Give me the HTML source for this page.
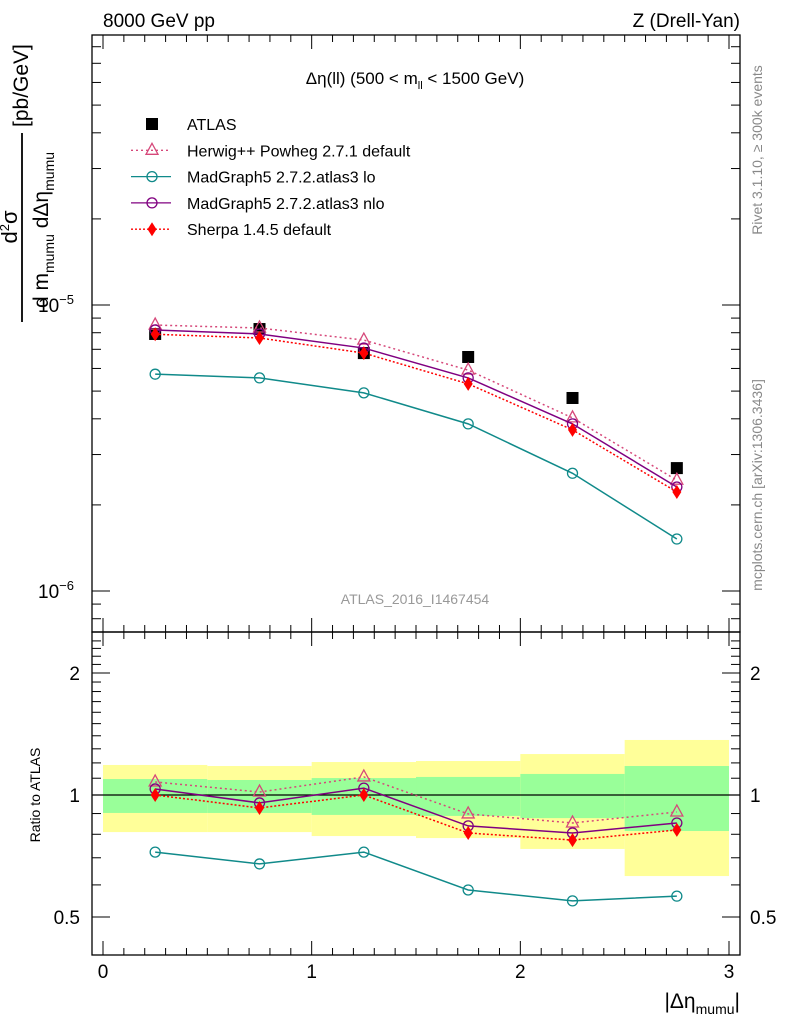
<!DOCTYPE html>
<html><head><meta charset="utf-8"><style>
body{margin:0;background:#fff;width:786px;height:1024px;overflow:hidden}
svg{font-family:"Liberation Sans",sans-serif}
</style></head><body>
<svg id="c" width="786" height="1024" xmlns="http://www.w3.org/2000/svg"></svg>
<script>
const categories=[0.25,0.75,1.25,1.75,2.25,2.75];
const binEdges=[0,0.5,1,1.5,2,2.5,3];
const atlas=[0.792e-5,0.824e-5,0.679e-5,0.658e-5,0.473e-5,0.269e-5];
const herwig=[0.851e-5,0.831e-5,0.754e-5,0.592e-5,0.403e-5,0.244e-5];
const mgNlo=[0.818e-5,0.792e-5,0.707e-5,0.556e-5,0.384e-5,0.231e-5];
const sherpa=[0.79e-5,0.767e-5,0.679e-5,0.53e-5,0.366e-5,0.222e-5];
const mgLo=[0.573e-5,0.556e-5,0.493e-5,0.384e-5,0.258e-5,0.152e-5];
const rHerwig=[1.077,1.017,1.108,0.898,0.853,0.908];
const rNlo=[1.035,0.956,1.04,0.839,0.806,0.853];
const rSherpa=[1.0,0.929,1.0,0.806,0.774,0.82];
const rLo=[0.723,0.676,0.723,0.583,0.548,0.563];
const yelUp=[1.186,1.179,1.206,1.213,1.262,1.367];
const yelDn=[0.810,0.810,0.792,0.783,0.736,0.631];
const grnUp=[1.095,1.089,1.101,1.108,1.127,1.179];
const grnDn=[0.903,0.903,0.893,0.888,0.877,0.815];
const xTicks=[0,1,2,3];
const ratioTicks=[0.5,1,2];

const L=92,R=740,T=35,M=632,B=955;
const X=v=>103+v*208.67;
const Y=v=>305-286*Math.log10(v/1e-5);
const RY=v=>795-122*Math.log2(v);
const svg=document.getElementById('c');
const NS='http://www.w3.org/2000/svg';
function el(tag,attrs,parent){const e=document.createElementNS(NS,tag);for(const k in attrs)e.setAttribute(k,attrs[k]);(parent||svg).appendChild(e);return e;}
function txt(s,x,y,size,anchor,fill,parent){const t=el('text',{x:x,y:y,'font-size':size,'text-anchor':anchor||'start',fill:fill||'#000'},parent);t.textContent=s;return t;}

const bands=el('g',{});


for(let i=0;i<6;i++){
  const x0=X(binEdges[i]),x1=X(binEdges[i+1]);
  const y=el('rect',{x:x0,y:RY(yelUp[i]),width:x1-x0,height:RY(yelDn[i])-RY(yelUp[i]),fill:'#ffff99'},bands);
  
  
  const g=el('rect',{x:x0,y:RY(grnUp[i]),width:x1-x0,height:RY(grnDn[i])-RY(grnUp[i]),fill:'#99ff99'},bands);
  
  
}
el('line',{x1:L,x2:R,y1:RY(1),y2:RY(1),stroke:'#000','stroke-width':1.3});

for(const [y0,y1,n] of [[T,M,'main-frame'],[M,B,'ratio-frame']]){
  const f=el('rect',{x:L,y:y0,width:R-L,height:y1-y0,fill:'none',stroke:'#000','stroke-width':1.3});
  
  
}
for(let v=0;v<=3.001;v+=0.1){
  const maj=Math.abs(v-Math.round(v))<1e-6;const len=maj?14:7;const x=X(v);
  for(const [yb,dir] of [[M,-1],[T,1],[B,-1]]) el('line',{x1:x,x2:x,y1:yb,y2:yb+dir*len,stroke:'#000'});
  el('line',{x1:x,x2:x,y1:M,y2:M+len,stroke:'#000'});
}
xTicks.forEach(v=>{const t=txt(String(v),X(v),978,19,'middle');});
for(let d=-7;d<=-4;d++)for(let m=1;m<10;m++){
  const v=m*Math.pow(10,d);const y=Y(v);if(y<T||y>M)continue;const len=m==1?18:9;
  el('line',{x1:L,x2:L+len,y1:y,y2:y,stroke:'#000'});el('line',{x1:R,x2:R-len,y1:y,y2:y,stroke:'#000'});
}
const t5=el('text',{x:38,y:312,'font-size':19},svg);t5.innerHTML='10<tspan dy="-8" font-size="13">−5</tspan>';

const t6=el('text',{x:38,y:598,'font-size':19},svg);t6.innerHTML='10<tspan dy="-8" font-size="13">−6</tspan>';

for(let v=0.4;v<=2.5;v+=0.1){const y=RY(v);if(y<M||y>B)continue;
  const maj=[0.5,1,2].some(q=>Math.abs(q-v)<1e-6);const len=maj?18:9;
  el('line',{x1:L,x2:L+len,y1:y,y2:y,stroke:'#000'});el('line',{x1:R,x2:R-len,y1:y,y2:y,stroke:'#000'});}
ratioTicks.forEach(v=>{txt(String(v),80,RY(v)+7,19,'end');txt(String(v),750,RY(v)+7,19,'start');});

function line(vals,fy,col,dash,w,name){const p=el('polyline',{points:vals.map((v,i)=>X(categories[i])+','+fy(v)).join(' '),fill:'none',stroke:col,'stroke-width':w||1.5,'stroke-dasharray':dash||'none'});}
function tri(x,y,c,g){el('polygon',{points:`${x},${y-7} ${x-6},${y+4} ${x+6},${y+4}`,fill:'none',stroke:c,'stroke-width':1.3},g);}
function circ(x,y,c,g){el('circle',{cx:x,cy:y,r:5,fill:'none',stroke:c,'stroke-width':1.3},g);}
function dia(x,y,c,g){el('polygon',{points:`${x},${y-7} ${x+4.5},${y} ${x},${y+7} ${x-4.5},${y}`,fill:c},g);}
function sq(x,y,c,g){el('rect',{x:x-6,y:y-6,width:12,height:12,fill:c},g);}
function marks(vals,fy,fn,col,name){const g=el('g',{});vals.forEach((v,i)=>fn(X(categories[i]),fy(v),col,g));}
const HC='#d6487a',LC='#108a8a',NC='#800080',SC='#ff0000';
marks(atlas,Y,sq,'#000','atlas-markers');
line(mgLo,Y,LC,null,1.5,'mg-lo-line');marks(mgLo,Y,circ,LC,'mg-lo-markers');
line(herwig,Y,HC,'2,3',1.5,'herwig-line');marks(herwig,Y,tri,HC,'herwig-markers');
line(mgNlo,Y,NC,null,1.5,'mg-nlo-line');marks(mgNlo,Y,circ,NC,'mg-nlo-markers');
line(sherpa,Y,SC,'2,2',1.5,'sherpa-line');marks(sherpa,Y,dia,SC,'sherpa-markers');
line(rLo,RY,LC,null,1.5,'ratio-mg-lo-line');marks(rLo,RY,circ,LC,'ratio-mg-lo-markers');
line(rHerwig,RY,HC,'2,3',1.5,'ratio-herwig-line');marks(rHerwig,RY,tri,HC,'ratio-herwig-markers');
line(rNlo,RY,NC,null,1.5,'ratio-mg-nlo-line');marks(rNlo,RY,circ,NC,'ratio-mg-nlo-markers');
line(rSherpa,RY,SC,'2,2',1.5,'ratio-sherpa-line');marks(rSherpa,RY,dia,SC,'ratio-sherpa-markers');

const leg=[['ATLAS',sq,'#000',null],['Herwig++ Powheg 2.7.1 default',tri,HC,'2,3'],['MadGraph5 2.7.2.atlas3 lo',circ,LC,''],['MadGraph5 2.7.2.atlas3 nlo',circ,NC,''],['Sherpa 1.4.5 default',dia,SC,'2,2']];
leg.forEach((e,i)=>{const y=124+i*26.3;const g=el('g',{});
 if(e[3]!==null)el('line',{x1:131,x2:171,y1:y,y2:y,stroke:e[2],'stroke-width':1.3,'stroke-dasharray':e[3]||'none'},g);
 e[1](152,y,e[2],g);txt(e[0],187,y+6,16,'start','#000',g);});
</script>
<svg width="786" height="1024" style="position:absolute;left:0;top:0" xmlns="http://www.w3.org/2000/svg" font-family="Liberation Sans, sans-serif">
<text x="103" y="27" font-size="19">8000 GeV pp</text>
<text x="740" y="27" font-size="19" text-anchor="end">Z (Drell-Yan)</text>
<text x="415" y="84" font-size="17" text-anchor="middle">Δη(ll) (500 &lt; m<tspan dy="5" font-size="11">ll</tspan><tspan dy="-5"> &lt; 1500 GeV)</tspan></text>
<text x="415" y="604" font-size="14" fill="#999" text-anchor="middle">ATLAS_2016_I1467454</text>
<text transform="translate(762,150) rotate(-90)" font-size="14" fill="#888" text-anchor="middle">Rivet 3.1.10, ≥ 300k events</text>
<text transform="translate(762,485) rotate(-90)" font-size="14" fill="#888" text-anchor="middle">mcplots.cern.ch [arXiv:1306.3436]</text>
<text transform="translate(40,795) rotate(-90)" font-size="14" text-anchor="middle">Ratio to ATLAS</text>
<g transform="rotate(-90)">
<line x1="-322" x2="-133" y1="22" y2="22" stroke="#000" stroke-width="1.8"/>
<text x="-227" y="17" font-size="22" text-anchor="middle">d<tspan dy="-8" font-size="13">2</tspan><tspan dy="8">σ</tspan></text>
<text x="-230" y="48" font-size="21" text-anchor="middle">d m<tspan dy="6" font-size="14">mumu</tspan><tspan dy="-6"> dΔη</tspan><tspan dy="6" font-size="14">mumu</tspan></text>
<text x="-127" y="28" font-size="21">[pb/GeV]</text>
</g>
<text x="740" y="1008" font-size="21" text-anchor="end">|Δη<tspan dy="6" font-size="14">mumu</tspan><tspan dy="-6">|</tspan></text>
</svg>
</body></html>
